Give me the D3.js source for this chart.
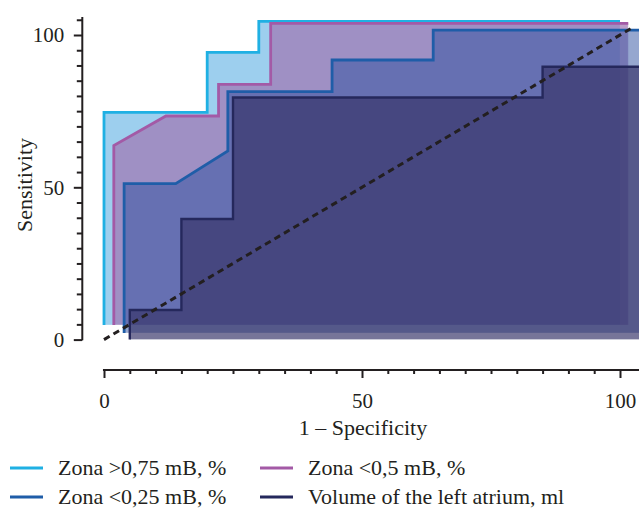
<!DOCTYPE html>
<html>
<head>
<meta charset="utf-8">
<script src="https://cdn.jsdelivr.net/npm/d3@7"></script>
<style>
  body { margin: 0; background: #fff; }
  text { font-family: "Liberation Serif", "Times New Roman", serif; fill: #231f20; }
</style>
</head>
<body>
<div id="chart-area"></div>
<script>
// Series names (legend order)
let seriesNames = ['Zona >0,75 mB, %', 'Zona <0,5 mB, %', 'Zona <0,25 mB, %', 'Volume of the left atrium, ml'];

// Step curves (1 - specificity, sensitivity)
let x075 = [0, 0, 20, 20, 30, 30, 100];
let y075 = [4.8, 74.6, 74.6, 94.3, 94.3, 104.5, 104.5];

let x05 = [1.9, 1.9, 12, 22.2, 22.2, 32.3, 32.3, 101.6];
let y05 = [4.8, 63.7, 73.4, 73.4, 83.8, 83.8, 103.8, 103.8];

let x025 = [3.9, 3.9, 13.9, 24, 24, 44.2, 44.2, 63.8, 63.8, 104];
let y025 = [2.2, 51.2, 51.2, 61.9, 81.4, 81.4, 91.8, 91.8, 101.6, 101.6];

let xVol = [5, 5, 15, 15, 25, 25, 85, 85, 104];
let yVol = [0, 9.7, 9.7, 39.6, 39.6, 79.5, 79.5, 89.6, 89.6];

// bottom of each filled area
let baseLines = [4.8, 4.8, 2.2, 0];

// reference diagonal
let diagX = [0, 102.6];
let diagY = [0, 102.6];

// ticks
let tickValues = d3.range(0, 106, 5);
let tickLabels = [0, 50, 100];

let lineColors = ['#1fb0e3', '#a35aa6', '#1f5da8', '#25285c'];
let fillColors = ['#9dcfee', '#a075b2', '#2d50a0', '#373468'];
let fillOpacity = [1, 0.7, 0.5, 0.68];

let svg = d3.select('#chart-area')
    .append('svg')
        .attr('width', 639)
        .attr('height', 510);

// Scales
let x = d3.scaleLinear().domain([0, 100]).range([104, 620]);
let y = d3.scaleLinear().domain([0, 100]).range([339.6, 35]);

let curves = [
    d3.zip(x075, y075),
    d3.zip(x05, y05),
    d3.zip(x025, y025),
    d3.zip(xVol, yVol)
];

let line = d3.line().x(d => x(d[0])).y(d => y(d[1]));

let plot = svg.append('g');

curves.forEach(function(pts, i) {
    let last = pts[pts.length - 1];
    let poly = pts.concat([[last[0], baseLines[i]], [pts[0][0], baseLines[i]]]);

    plot.append('path')
        .attr('d', line(poly) + 'Z')
        .attr('fill', fillColors[i])
        .attr('fill-opacity', fillOpacity[i])
        .attr('stroke', 'rgba(255,255,255,0.3)')
        .attr('stroke-width', 1);

    plot.append('path')
        .attr('d', line(pts))
        .attr('fill', 'none')
        .attr('stroke', lineColors[i])
        .attr('stroke-width', i == 3 ? 2.4 : 2.8);
});

plot.append('path')
    .attr('d', line(d3.zip(diagX, diagY)))
    .attr('fill', 'none')
    .attr('stroke', '#231f20')
    .attr('stroke-width', 3)
    .attr('stroke-dasharray', '6.5,4.5');

// X Axis
let xAxisCall = d3.axisBottom(x)
    .tickValues(tickValues)
    .tickSize(4)
    .tickSizeOuter(0)
    .tickFormat(d => tickLabels.includes(d) ? d : '');
let xAxis = svg.append('g')
    .attr('transform', 'translate(0,370)')
    .call(xAxisCall);
xAxis.select('.domain').attr('d', 'M' + x(-0.2) + ',0H639');
xAxis.selectAll('.tick').filter(d => tickLabels.includes(d)).select('line').attr('y2', 8);
xAxis.selectAll('.tick text').attr('y', 23).attr('font-size', 21).attr('font-family', null);

// Y Axis
let yAxisCall = d3.axisLeft(y)
    .tickValues(tickValues)
    .tickSize(5.5)
    .tickSizeOuter(0)
    .tickFormat(d => tickLabels.includes(d) ? d : '');
let yAxis = svg.append('g')
    .attr('transform', 'translate(82.3,0)')
    .call(yAxisCall);
yAxis.select('.domain').attr('d', 'M0,' + y(-0.2) + 'V' + y(105.9));
yAxis.selectAll('.tick').filter(d => tickLabels.includes(d)).select('line').attr('x2', -8.5);
yAxis.selectAll('.tick text').attr('x', -18).attr('font-size', 21).attr('font-family', null);

svg.selectAll('.domain, .tick line').attr('stroke', '#231f20').attr('stroke-width', 2);

// Labels
svg.append('text')
    .attr('x', 363)
    .attr('y', 435)
    .attr('font-size', 22)
    .attr('text-anchor', 'middle')
    .text('1 \u2013 Specificity');
svg.append('text')
    .attr('transform', 'translate(32,185) rotate(-90)')
    .attr('font-size', 22)
    .attr('text-anchor', 'middle')
    .text('Sensitivity');

// Legend
let legend = svg.append('g');
seriesNames.forEach(function(name, i) {
    let col = i % 2, row = Math.floor(i / 2);
    let row0 = legend.append('g')
        .attr('transform', 'translate(' + (10 + col * 250) + ',' + (468 + row * 29) + ')');
    row0.append('line')
        .attr('x1', 0).attr('x2', 33)
        .attr('stroke', lineColors[i])
        .attr('stroke-width', 3);
    row0.append('text')
        .attr('x', 48)
        .attr('y', 7)
        .attr('font-size', 22)
        .text(name);
});
</script>
</body>
</html>
